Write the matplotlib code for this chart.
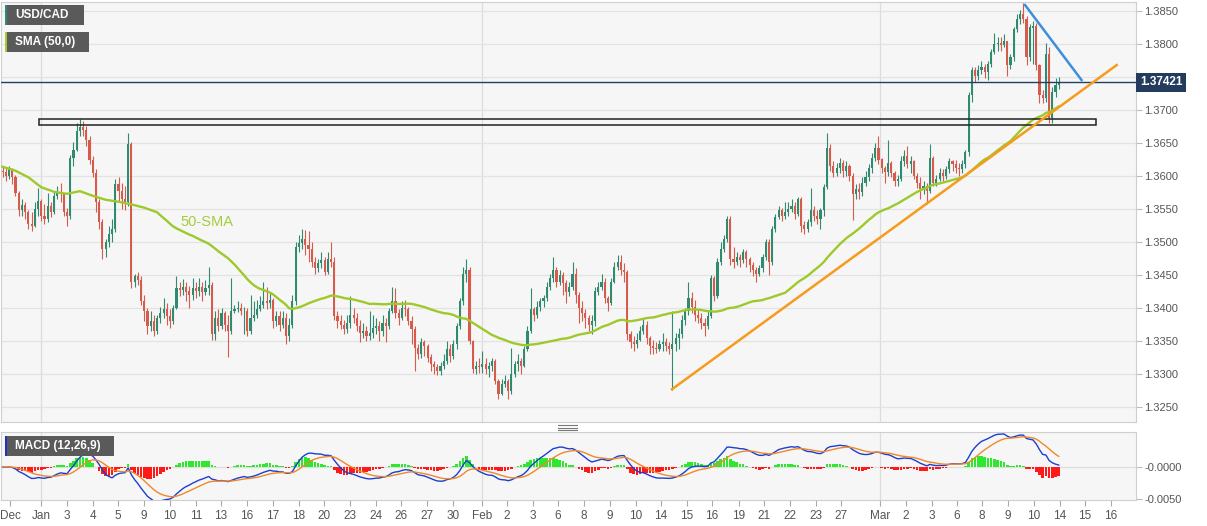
import matplotlib
matplotlib.use("Agg")
import matplotlib.pyplot as plt
import matplotlib.transforms as mtransforms
from matplotlib.patches import Rectangle
from matplotlib.lines import Line2D
import numpy as np
import pandas as pd

plt.rcParams['font.family'] = ['Liberation Sans', 'DejaVu Sans']

# USD/CAD 4H candles (open = previous close)
first_open = 1.3608
close = [
    1.3606, 1.3600, 1.3610, 1.3598, 1.3575, 1.3548, 1.3556, 1.3545,
    1.3528, 1.3524, 1.3550, 1.3562, 1.3540, 1.3535, 1.3555, 1.3545,
    1.3570, 1.3575, 1.3572, 1.3545, 1.3540, 1.3628, 1.3640, 1.3668,
    1.3675, 1.3670, 1.3655, 1.3625, 1.3605, 1.3560, 1.3530, 1.3490,
    1.3500, 1.3512, 1.3520, 1.3588, 1.3578, 1.3565, 1.3560, 1.3648,
    1.3440, 1.3448, 1.3442, 1.3410, 1.3395, 1.3372, 1.3380, 1.3365,
    1.3385, 1.3392, 1.3398, 1.3388, 1.3380, 1.3400, 1.3430, 1.3428,
    1.3432, 1.3425, 1.3420, 1.3430, 1.3426, 1.3432, 1.3424, 1.3430,
    1.3435, 1.3360, 1.3385, 1.3372, 1.3392, 1.3375, 1.3365, 1.3395,
    1.3398, 1.3400, 1.3395, 1.3395, 1.3365, 1.3385, 1.3390, 1.3398,
    1.3405, 1.3410, 1.3408, 1.3412, 1.3380, 1.3388, 1.3375, 1.3385,
    1.3358, 1.3375, 1.3410, 1.3492, 1.3498, 1.3505, 1.3495, 1.3490,
    1.3470, 1.3460, 1.3468, 1.3472, 1.3455, 1.3475, 1.3470, 1.3388,
    1.3380, 1.3375, 1.3368, 1.3378, 1.3390, 1.3385, 1.3372, 1.3362,
    1.3365, 1.3358, 1.3362, 1.3370, 1.3372, 1.3365, 1.3378, 1.3372,
    1.3395, 1.3410, 1.3392, 1.3385, 1.3400, 1.3398, 1.3380, 1.3368,
    1.3340, 1.3330, 1.3348, 1.3342, 1.3325, 1.3315, 1.3310, 1.3305,
    1.3312, 1.3320, 1.3338, 1.3328, 1.3345, 1.3372, 1.3410, 1.3452,
    1.3458, 1.3350, 1.3308, 1.3312, 1.3310, 1.3315, 1.3308, 1.3312,
    1.3320, 1.3290, 1.3270, 1.3285, 1.3290, 1.3275, 1.3300, 1.3315,
    1.3320, 1.3312, 1.3338, 1.3365, 1.3398, 1.3390, 1.3402, 1.3410,
    1.3415, 1.3432, 1.3445, 1.3458, 1.3440, 1.3450, 1.3438, 1.3425,
    1.3432, 1.3452, 1.3420, 1.3400, 1.3392, 1.3385, 1.3375, 1.3380,
    1.3425, 1.3432, 1.3440, 1.3415, 1.3408, 1.3440, 1.3462, 1.3470,
    1.3458, 1.3455, 1.3360, 1.3348, 1.3345, 1.3352, 1.3365, 1.3375,
    1.3355, 1.3342, 1.3340, 1.3338, 1.3345, 1.3348, 1.3342, 1.3338,
    1.3345, 1.3355, 1.3360, 1.3382, 1.3396, 1.3415, 1.3402, 1.3390,
    1.3385, 1.3378, 1.3372, 1.3388, 1.3445, 1.3418, 1.3470, 1.3490,
    1.3505, 1.3535, 1.3475, 1.3470, 1.3478, 1.3472, 1.3485, 1.3475,
    1.3465, 1.3458, 1.3452, 1.3460, 1.3478, 1.3500, 1.3470, 1.3520,
    1.3538, 1.3548, 1.3540, 1.3545, 1.3550, 1.3555, 1.3542, 1.3565,
    1.3525, 1.3520, 1.3530, 1.3548, 1.3540, 1.3535, 1.3548, 1.3583,
    1.3642, 1.3615, 1.3605, 1.3612, 1.3620, 1.3608, 1.3615, 1.3600,
    1.3572, 1.3580, 1.3576, 1.3590, 1.3598, 1.3612, 1.3628, 1.3642,
    1.3625, 1.3612, 1.3606, 1.3620, 1.3605, 1.3592, 1.3595, 1.3622,
    1.3630, 1.3618, 1.3622, 1.3600, 1.3590, 1.3580, 1.3585, 1.3578,
    1.3628, 1.3590, 1.3595, 1.3605, 1.3600, 1.3610, 1.3622, 1.3618,
    1.3612, 1.3610, 1.3618, 1.3636, 1.3722, 1.3760, 1.3752, 1.3760,
    1.3765, 1.3758, 1.3770, 1.3788, 1.3800, 1.3802, 1.3798, 1.3805,
    1.3768, 1.3780, 1.3822, 1.3838, 1.3845, 1.3838, 1.3780, 1.3825,
    1.3828, 1.3768, 1.3722, 1.3718, 1.3785, 1.3688, 1.3728, 1.3738, 1.3742,
]
high = [
    1.3614, 1.3612, 1.3615, 1.3612, 1.3602, 1.3578, 1.3565, 1.3560,
    1.3548, 1.3545, 1.3560, 1.3582, 1.3565, 1.3558, 1.3575, 1.3560,
    1.3578, 1.3585, 1.3590, 1.3575, 1.3552, 1.3632, 1.3652, 1.3680,
    1.3686, 1.3684, 1.3676, 1.3660, 1.3630, 1.3610, 1.3565, 1.3535,
    1.3505, 1.3525, 1.3535, 1.3595, 1.3598, 1.3590, 1.3585, 1.3665,
    1.3652, 1.3452, 1.3455, 1.3448, 1.3420, 1.3400, 1.3395, 1.3390,
    1.3390, 1.3402, 1.3415, 1.3408, 1.3398, 1.3405, 1.3448, 1.3440,
    1.3444, 1.3440, 1.3434, 1.3445, 1.3440, 1.3446, 1.3440, 1.3442,
    1.3462, 1.3440, 1.3395, 1.3398, 1.3400, 1.3396, 1.3390, 1.3445,
    1.3405, 1.3410, 1.3408, 1.3402, 1.3400, 1.3420, 1.3410, 1.3412,
    1.3418, 1.3440, 1.3432, 1.3425, 1.3415, 1.3395, 1.3395, 1.3395,
    1.3392, 1.3385, 1.3420, 1.3500, 1.3510, 1.3520, 1.3518, 1.3516,
    1.3500, 1.3478, 1.3475, 1.3485, 1.3478, 1.3485, 1.3500, 1.3478,
    1.3395, 1.3390, 1.3382, 1.3390, 1.3418, 1.3400, 1.3392, 1.3382,
    1.3378, 1.3372, 1.3395, 1.3390, 1.3385, 1.3380, 1.3390, 1.3385,
    1.3400, 1.3432, 1.3430, 1.3398, 1.3410, 1.3412, 1.3402, 1.3388,
    1.3372, 1.3345, 1.3355, 1.3352, 1.3345, 1.3330, 1.3320, 1.3315,
    1.3318, 1.3330, 1.3350, 1.3345, 1.3352, 1.3378, 1.3415, 1.3462,
    1.3474, 1.3462, 1.3352, 1.3320, 1.3325, 1.3335, 1.3325, 1.3318,
    1.3325, 1.3322, 1.3292, 1.3292, 1.3298, 1.3292, 1.3340, 1.3320,
    1.3330, 1.3325, 1.3342, 1.3372, 1.3430, 1.3402, 1.3410, 1.3415,
    1.3420, 1.3440, 1.3452, 1.3478, 1.3462, 1.3458, 1.3455, 1.3442,
    1.3440, 1.3470, 1.3460, 1.3425, 1.3410, 1.3398, 1.3390, 1.3390,
    1.3432, 1.3440, 1.3452, 1.3445, 1.3418, 1.3445, 1.3470, 1.3480,
    1.3480, 1.3468, 1.3458, 1.3365, 1.3358, 1.3362, 1.3372, 1.3385,
    1.3380, 1.3358, 1.3352, 1.3348, 1.3352, 1.3362, 1.3355, 1.3348,
    1.3395, 1.3362, 1.3370, 1.3390, 1.3400, 1.3440, 1.3425, 1.3412,
    1.3398, 1.3392, 1.3385, 1.3395, 1.3450, 1.3448, 1.3476, 1.3500,
    1.3510, 1.3540, 1.3540, 1.3492, 1.3485, 1.3482, 1.3490, 1.3488,
    1.3478, 1.3470, 1.3462, 1.3465, 1.3482, 1.3505, 1.3505, 1.3525,
    1.3542, 1.3555, 1.3552, 1.3560, 1.3560, 1.3565, 1.3560, 1.3568,
    1.3568, 1.3532, 1.3535, 1.3582, 1.3555, 1.3548, 1.3552, 1.3588,
    1.3665, 1.3648, 1.3622, 1.3620, 1.3628, 1.3625, 1.3622, 1.3618,
    1.3605, 1.3588, 1.3590, 1.3598, 1.3608, 1.3618, 1.3635, 1.3650,
    1.3660, 1.3628, 1.3615, 1.3655, 1.3622, 1.3608, 1.3602, 1.3630,
    1.3640, 1.3645, 1.3630, 1.3625, 1.3605, 1.3598, 1.3592, 1.3590,
    1.3648, 1.3630, 1.3602, 1.3612, 1.3610, 1.3615, 1.3628, 1.3625,
    1.3625, 1.3620, 1.3625, 1.3640, 1.3728, 1.3765, 1.3765, 1.3768,
    1.3775, 1.3770, 1.3775, 1.3792, 1.3816, 1.3810, 1.3810, 1.3815,
    1.3798, 1.3785, 1.3826, 1.3845, 1.3852, 1.3862, 1.3842, 1.3830,
    1.3835, 1.3832, 1.3770, 1.3730, 1.3802, 1.3795, 1.3735, 1.3748, 1.3750,
]
low = [
    1.3598, 1.3592, 1.3596, 1.3588, 1.3570, 1.3540, 1.3540, 1.3535,
    1.3520, 1.3516, 1.3522, 1.3540, 1.3532, 1.3528, 1.3530, 1.3538,
    1.3543, 1.3565, 1.3560, 1.3540, 1.3524, 1.3535, 1.3615, 1.3638,
    1.3660, 1.3660, 1.3645, 1.3618, 1.3598, 1.3545, 1.3520, 1.3474,
    1.3478, 1.3492, 1.3500, 1.3515, 1.3560, 1.3550, 1.3548, 1.3555,
    1.3430, 1.3432, 1.3435, 1.3405, 1.3380, 1.3360, 1.3365, 1.3358,
    1.3360, 1.3378, 1.3385, 1.3375, 1.3370, 1.3376, 1.3398, 1.3418,
    1.3420, 1.3410, 1.3400, 1.3412, 1.3415, 1.3418, 1.3410, 1.3420,
    1.3420, 1.3352, 1.3352, 1.3365, 1.3368, 1.3365, 1.3326, 1.3360,
    1.3392, 1.3394, 1.3390, 1.3360, 1.3358, 1.3360, 1.3380, 1.3385,
    1.3395, 1.3400, 1.3398, 1.3400, 1.3370, 1.3372, 1.3365, 1.3370,
    1.3345, 1.3350, 1.3370, 1.3405, 1.3485, 1.3490, 1.3480, 1.3470,
    1.3462, 1.3452, 1.3455, 1.3460, 1.3450, 1.3452, 1.3462, 1.3382,
    1.3370, 1.3368, 1.3360, 1.3362, 1.3370, 1.3378, 1.3365, 1.3348,
    1.3355, 1.3350, 1.3352, 1.3355, 1.3360, 1.3350, 1.3358, 1.3348,
    1.3368, 1.3392, 1.3385, 1.3375, 1.3382, 1.3388, 1.3375, 1.3345,
    1.3305, 1.3322, 1.3325, 1.3328, 1.3318, 1.3305, 1.3300, 1.3298,
    1.3298, 1.3308, 1.3315, 1.3318, 1.3322, 1.3338, 1.3368, 1.3405,
    1.3440, 1.3345, 1.3302, 1.3300, 1.3302, 1.3302, 1.3300, 1.3295,
    1.3305, 1.3285, 1.3262, 1.3268, 1.3280, 1.3262, 1.3270, 1.3295,
    1.3305, 1.3300, 1.3310, 1.3335, 1.3362, 1.3380, 1.3385, 1.3395,
    1.3402, 1.3410, 1.3428, 1.3440, 1.3432, 1.3435, 1.3420, 1.3408,
    1.3418, 1.3428, 1.3408, 1.3378, 1.3380, 1.3370, 1.3365, 1.3360,
    1.3372, 1.3420, 1.3428, 1.3408, 1.3395, 1.3405, 1.3438, 1.3458,
    1.3450, 1.3440, 1.3352, 1.3340, 1.3335, 1.3340, 1.3350, 1.3360,
    1.3345, 1.3330, 1.3330, 1.3332, 1.3335, 1.3335, 1.3335, 1.3330,
    1.3276, 1.3335, 1.3338, 1.3355, 1.3375, 1.3390, 1.3392, 1.3380,
    1.3378, 1.3368, 1.3358, 1.3368, 1.3385, 1.3410, 1.3415, 1.3465,
    1.3485, 1.3500, 1.3465, 1.3460, 1.3465, 1.3462, 1.3468, 1.3462,
    1.3455, 1.3448, 1.3440, 1.3448, 1.3455, 1.3472, 1.3450, 1.3465,
    1.3515, 1.3535, 1.3532, 1.3535, 1.3540, 1.3545, 1.3535, 1.3540,
    1.3515, 1.3512, 1.3515, 1.3525, 1.3532, 1.3528, 1.3520, 1.3540,
    1.3580, 1.3608, 1.3598, 1.3600, 1.3605, 1.3598, 1.3600, 1.3592,
    1.3533, 1.3565, 1.3565, 1.3570, 1.3585, 1.3592, 1.3605, 1.3622,
    1.3618, 1.3605, 1.3590, 1.3600, 1.3598, 1.3585, 1.3585, 1.3592,
    1.3615, 1.3612, 1.3605, 1.3595, 1.3582, 1.3565, 1.3572, 1.3558,
    1.3575, 1.3585, 1.3585, 1.3592, 1.3592, 1.3595, 1.3605, 1.3608,
    1.3605, 1.3600, 1.3605, 1.3612, 1.3630, 1.3712, 1.3742, 1.3745,
    1.3755, 1.3748, 1.3745, 1.3765, 1.3785, 1.3790, 1.3790, 1.3795,
    1.3752, 1.3762, 1.3775, 1.3818, 1.3830, 1.3832, 1.3768, 1.3775,
    1.3770, 1.3760, 1.3710, 1.3710, 1.3712, 1.3680, 1.3680, 1.3720, 1.3732,
]

# 50-SMA over the first 49 candles (needs earlier history), read every 4 candles
sma_head = [1.3614, 1.3608, 1.3598, 1.3583, 1.3576, 1.3573, 1.3577,
            1.3570, 1.3564, 1.3561, 1.3557, 1.3552, 1.3545]

tick_labels = ['Dec', 'Jan', '3', '4', '5', '9', '10', '11', '13', '16', '17',
               '18', '20', '23', '24', '26', '27', '30', 'Feb', '2', '3', '6',
               '8', '9', '10', '14', '15', '16', '19', '21', '22', '23', '27',
               'Mar', '2', '3', '6', '8', '9', '10', '14', '15', '16']

last_price = 1.37421
zone_low, zone_high = 1.3678, 1.3686

# ---- layout (pixels of a 1207x526 canvas) ----
W, H = 1207, 526
X0, DX = 2.6, 3.22          # pixel x of candle 0 and candle spacing


def idx(px):
    return (px - X0) / DX


tick_px = [10, 41, 67, 93, 118, 144, 170, 196, 221, 247, 273, 299, 324, 350,
           376, 401, 427, 453, 482, 507, 533, 558, 584, 610, 636, 661, 687,
           712, 739, 764, 790, 816, 841, 880, 906, 932, 957, 982, 1008, 1034,
           1060, 1085, 1111]
month_px = [41, 482, 880]

o = np.r_[first_open, close[:-1]]
c = np.array(close)
hi = np.maximum(np.array(high), np.maximum(o, c))
lo = np.minimum(np.array(low), np.minimum(o, c))
x = np.arange(len(c))

s = pd.Series(c)
sma = s.rolling(50).mean()
macd = s.ewm(span=12, adjust=False).mean() - s.ewm(span=26, adjust=False).mean()
signal = macd.ewm(span=9, adjust=False).mean()
hist = macd - signal

sma_x = np.r_[np.arange(0, 49, 4), x[49:]]
sma_y = np.r_[sma_head, sma.values[49:]]

fig = plt.figure(figsize=(W / 100, H / 100), dpi=100)
fig.patch.set_facecolor('white')

ax = fig.add_axes([1 / W, 1 - 422 / H, 1135 / W, 420 / H])
mx = fig.add_axes([1 / W, 1 - 500 / H, 1135 / W, 68 / H], sharex=ax)

bg = '#f6f6f6'
grid_c = '#e3e3e3'
for a in (ax, mx):
    a.set_facecolor(bg)
    for sp in a.spines.values():
        sp.set_color('#cfcfcf')
        sp.set_linewidth(0.8)
    a.yaxis.tick_right()
    a.tick_params(axis='y', colors='#bbbbbb', labelcolor='#555555',
                  labelsize=8, length=4, width=0.8, pad=2)
    for m in month_px:
        a.axvline(idx(m), color='#dcdcdc', lw=0.9, zorder=0)

# price panel
ax.set_ylim(1.385 - 411 / 6600, 1.385 + 9 / 6600)
ax.set_xlim(idx(1), idx(1136))
yt = np.arange(1.325, 1.3851, 0.005)
ax.set_yticks(yt)
ax.set_yticklabels([f'{v:.4f}' for v in yt])
for v in yt:
    ax.axhline(v, color=grid_c, lw=0.9, zorder=0)
ax.tick_params(axis='x', bottom=False, labelbottom=False)

up_c, dn_c = '#2e8b6f', '#d65b4c'
cols = np.where(c >= o, up_c, dn_c)
ax.vlines(x, lo, hi, colors=cols, lw=0.8, zorder=3)
body = np.maximum(np.abs(c - o), 0.00005)
ax.bar(x, body, bottom=np.minimum(o, c), width=0.66, color=cols,
       linewidth=0, zorder=4)

ax.plot(sma_x, sma_y, color='#9dc92a', lw=1.7, zorder=5)
ax.text(idx(180), 1.3530, '50-SMA', color='#a6cc3a', fontsize=10.5,
        va='center', ha='left', zorder=6)

# support zone, trend lines, last price
ax.add_patch(Rectangle((idx(38.5), zone_low), idx(1095.7) - idx(38.5),
                       zone_high - zone_low, facecolor='none',
                       edgecolor='#222222', lw=1.1, zorder=6))
ax.plot([idx(1024.3), idx(1082.3)], [1.38606, 1.37439], color='#3d8fdb',
        lw=1.8, zorder=7, solid_capstyle='butt')
ax.plot([idx(671), idx(1117.7)], [1.32758, 1.37692], color='#f59b1e',
        lw=1.8, zorder=7, solid_capstyle='butt')
ax.axhline(last_price, color='#243f63', lw=1.0, zorder=6)
trans = mtransforms.blended_transform_factory(ax.transAxes, ax.transData)
ax.text(1.0 + 4 / 1135, last_price, f'{last_price:.5f}', transform=trans,
        color='white', fontsize=8.5, fontweight='bold', va='center',
        ha='left', zorder=10, clip_on=False,
        bbox=dict(boxstyle='square,pad=0.3', fc='#233c5e', ec='none'))

# MACD panel
mx.set_ylim(-33 / 32 * 0.005, 35 / 32 * 0.005)
mx.set_yticks([0.0, -0.005])
mx.set_yticklabels(['-0.0000', '-0.0050'])
mx.axhline(0, color='#dedede', lw=0.9, zorder=0)
hcols = np.where(hist >= 0, '#2ee82e', '#ff1a1a')
mx.bar(x, hist, width=0.8, color=hcols, linewidth=0, zorder=2)
mx.plot(x, macd, color='#1c3fd0', lw=1.0, zorder=3)
mx.plot(x, signal, color='#f0882a', lw=1.0, zorder=3)
mx.set_xticks([idx(p) for p in tick_px])
mx.set_xticklabels(tick_labels)
mx.tick_params(axis='x', colors='#aaaaaa', labelcolor='#555555',
               labelsize=8.5, length=4, width=0.8, pad=3)


# legend tags
def tag(x0, y0, x1, y1, text, stripe):
    fig.add_artist(Rectangle((x0 / W, 1 - y1 / H), (x1 - x0) / W,
                             (y1 - y0) / H, facecolor='#5a5a5a',
                             edgecolor='none', transform=fig.transFigure))
    fig.add_artist(Rectangle((x0 / W, 1 - y1 / H), 2 / W, (y1 - y0) / H,
                             facecolor=stripe, edgecolor='none',
                             transform=fig.transFigure))
    fig.text((x0 + 10) / W, 1 - (y0 + y1) / 2 / H, text, color='white',
             fontsize=8.5, fontweight='bold', va='center', ha='left')


tag(5, 5, 84, 25, 'USD/CAD', '#2a8a7e')
tag(5, 32, 89, 52, 'SMA (50,0)', '#a6c832')
tag(5, 436, 114, 456, 'MACD (12,26,9)', '#2233bb')

# panel splitter handle
for yy in (425, 427.5, 430):
    fig.add_artist(Line2D([558 / W, 577 / W], [1 - yy / H, 1 - yy / H],
                          color='#777777', lw=0.8, transform=fig.transFigure))

fig.savefig('out.png', dpi=100, facecolor='white')
